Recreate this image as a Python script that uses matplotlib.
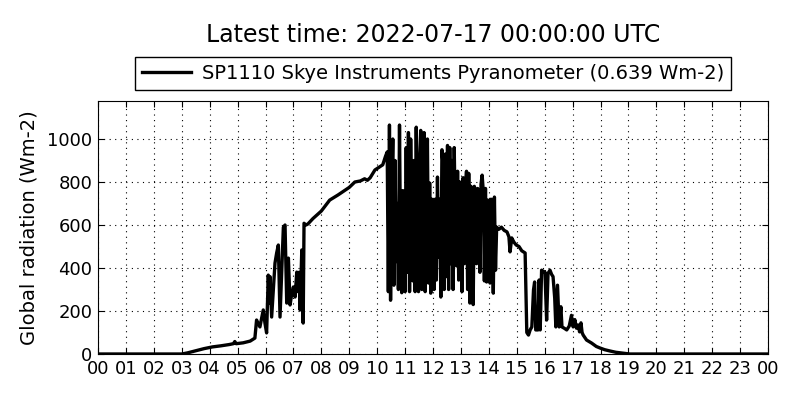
import numpy as np
import matplotlib
matplotlib.use('Agg')
import matplotlib.pyplot as plt

# hour of day (UTC) and global radiation (Wm-2)
hours = [0.0, 3.0, 3.2, 3.5, 3.8, 4.1, 4.4, 4.7, 4.85, 4.9, 4.95, 5.2, 5.45, 5.62,
         5.68, 5.8, 5.92, 5.98, 6.04, 6.1, 6.13, 6.16, 6.22, 6.34, 6.4, 6.46, 6.52,
         6.64, 6.7, 6.76, 6.82, 6.88, 6.94, 7.0, 7.06, 7.12, 7.17, 7.2, 7.24, 7.3,
         7.35, 7.38, 7.45, 7.52, 7.7, 8.0, 8.3, 8.6, 9.0, 9.2, 9.4, 9.55, 9.65, 9.75,
         9.92, 10.2, 10.3, 10.36,
         10.40, 10.44, 10.48, 10.52, 10.56, 10.60, 10.64, 10.68, 10.72, 10.76,
         10.80, 10.84, 10.88, 10.92, 10.96, 11.00, 11.04, 11.08, 11.12, 11.16,
         11.20, 11.24, 11.28, 11.32, 11.36, 11.40, 11.44, 11.48, 11.52, 11.56,
         11.60, 11.64, 11.68, 11.72, 11.76, 11.80, 11.84, 11.88, 11.92, 11.96,
         12.00, 12.04, 12.08, 12.12, 12.16, 12.20, 12.24, 12.28, 12.32, 12.36,
         12.40, 12.44, 12.48, 12.52, 12.56, 12.60, 12.64, 12.68, 12.72, 12.76,
         12.80, 12.84, 12.88, 12.92, 12.96, 13.00, 13.04, 13.08, 13.12, 13.16,
         13.20, 13.24, 13.28, 13.32, 13.36, 13.40, 13.44, 13.48, 13.52, 13.56,
         13.60, 13.64, 13.68, 13.72, 13.76, 13.80, 13.84, 13.88, 13.92, 13.96,
         14.00, 14.04, 14.08, 14.12, 14.16, 14.20, 14.24, 14.28, 14.36, 14.45,
         14.55, 14.65, 14.72, 14.76, 14.82, 14.90, 14.98, 15.08, 15.18, 15.30,
         15.36, 15.42, 15.48, 15.54, 15.60, 15.64, 15.68, 15.76, 15.80,
         15.84, 15.89, 15.95, 16.01, 16.07, 16.12, 16.19, 16.25, 16.30, 16.36,
         16.40, 16.46, 16.52, 16.58, 16.62, 16.70, 16.79, 16.88, 16.96, 17.02,
         17.08, 17.14, 17.20, 17.25, 17.30, 17.34, 17.38, 17.50, 17.68, 17.85,
         17.98, 18.15, 18.34, 18.55, 18.80, 19.05, 24.0]
radiation = [0, 0, 5, 15, 25, 33, 38, 44, 48, 58, 48, 52, 60, 74,
             158, 126, 205, 144, 98, 367, 237, 360, 172, 423, 470, 507, 172,
             590, 600, 237, 446, 228, 280, 312, 265, 381, 290, 380, 205, 484,
             144, 608, 600, 605, 630, 665, 716, 740, 775, 800, 805, 815, 808, 820,
             856, 880, 920, 940,
             290, 1065, 250, 760, 1000, 320, 900, 430, 700, 300,
             1065, 420, 285, 760, 640, 290, 960, 380, 1030, 290,
             1000, 600, 340, 900, 290, 1055, 560, 290, 900, 1040,
             300, 780, 1030, 290, 700, 1000, 330, 795, 283, 720,
             700, 300, 720, 344, 823, 450, 720, 265, 950, 880,
             300, 930, 360, 970, 300, 960, 420, 900, 300, 960,
             620, 410, 850, 344, 800, 700, 290, 820, 420, 760,
             850, 300, 840, 237, 780, 700, 230, 780, 760, 420,
             770, 740, 380, 790, 832, 760, 340, 770, 335, 716,
             700, 330, 720, 620, 283, 730, 390, 590, 580, 590,
             575, 568, 545, 475, 540, 520, 507, 500, 480, 470,
             100, 88, 112, 126, 298, 335, 112, 112, 344,
             112, 390, 385, 381, 158, 375, 390, 370, 360, 260,
             126, 320, 126, 220, 126, 120, 112, 130, 180, 126,
             160, 120, 135, 103, 145, 100, 88, 65, 51, 35,
             28, 20, 14, 8, 4, 0, 0]

hour_ticks = list(range(25))
hour_labels = ['%02d' % (h % 24) for h in hour_ticks]
y_ticks = [0, 200, 400, 600, 800, 1000]

fig = plt.figure(figsize=(8, 4), dpi=100)
ax = fig.add_axes([0.1225, 0.115, 0.8375, 0.6325])

ax.plot(hours, radiation, color='black', linewidth=2.4,
        label='SP1110 Skye Instruments Pyranometer (0.639 Wm-2)')

ax.set_xlim(0, 24)
ax.set_ylim(0, max(radiation) * 1.105)
ax.set_xticks(hour_ticks)
ax.set_xticklabels(hour_labels)
ax.set_yticks(y_ticks)
ax.tick_params(direction='in', top=True, right=True, labelsize=13, length=4, pad=4)
ax.grid(True, color='black', linestyle=(0, (1, 4)), linewidth=0.8)
ax.set_ylabel('Global radiation (Wm-2)', fontsize=14, labelpad=6)

leg = ax.legend(loc='lower center', bbox_to_anchor=(0.5, 1.045), fontsize=14,
                fancybox=False, edgecolor='black', framealpha=1, handlelength=2.5,
                handletextpad=0.55, borderaxespad=0, borderpad=0.35)
leg.get_frame().set_linewidth(1)

fig.text(433 / 800, 1 - 35 / 400, 'Latest time: 2022-07-17 00:00:00 UTC',
         ha='center', va='center', fontsize=17)

fig.savefig('out.png', dpi=100)
